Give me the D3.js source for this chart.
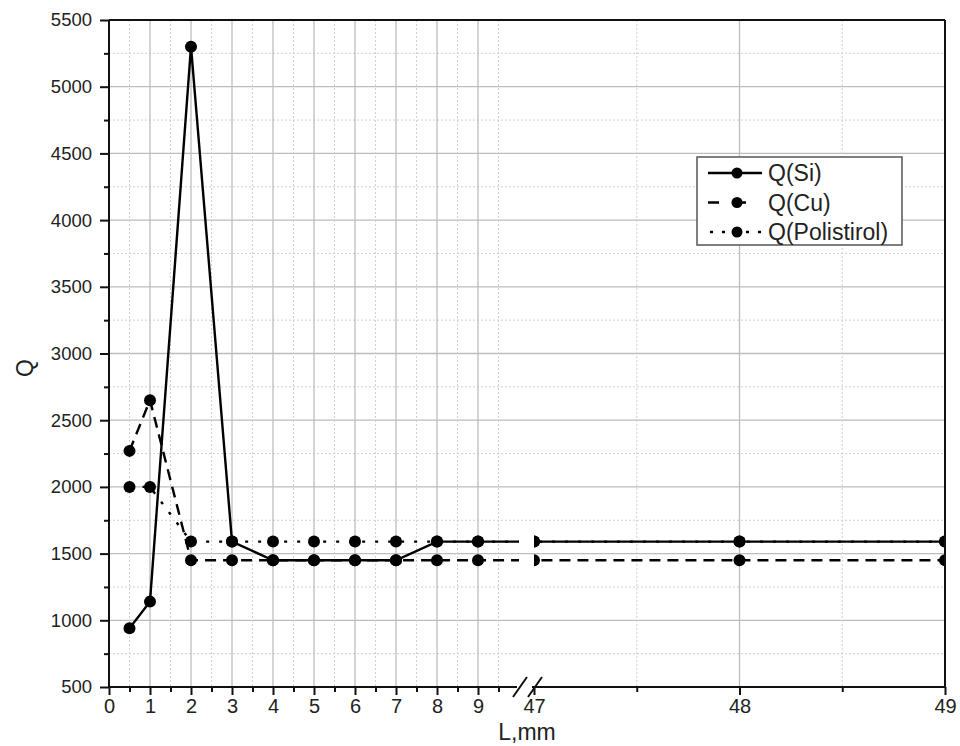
<!DOCTYPE html>
<html><head><meta charset="utf-8">
<script src="https://cdn.jsdelivr.net/npm/d3@7/dist/d3.min.js"></script>
<style>body{margin:0;background:#fff;} text{font-family:Arial,"Liberation Sans",sans-serif;fill:#222;}</style>
</head><body>
<svg id="c" width="960" height="746"></svg>
<script>
// Data
const xValues = [0.5, 1, 2, 3, 4, 5, 6, 7, 8, 9, 47, 48, 49];
const qSi = [940, 1140, 5300, 1590, 1450, 1450, 1450, 1450, 1590, 1590, 1590, 1590, 1590];
const qCu = [2270, 2650, 1450, 1450, 1450, 1450, 1450, 1450, 1450, 1450, 1450, 1450, 1450];
const qPol = [2000, 2000, 1590, 1590, 1590, 1590, 1590, 1590, 1590, 1590, 1590, 1590, 1590];
const seriesNames = ["Q(Si)", "Q(Cu)", "Q(Polistirol)"];
const seg1Ticks = [0, 1, 2, 3, 4, 5, 6, 7, 8, 9];
const seg2Ticks = [47, 48, 49];
const yTicks = [500, 1000, 1500, 2000, 2500, 3000, 3500, 4000, 4500, 5000, 5500];

const svg = d3.select("#c");
const pTop = 20, pBottom = 687, pLeft = 109, pRight = 945;
const y = d3.scaleLinear().domain([500, 5500]).range([pBottom, pTop]);
const segs = [
  {x: d3.scaleLinear().domain([0, 10]).range([pLeft, 519]), ticks: seg1Ticks, minor: d3.range(0.5, 10, 1), id: "s1"},
  {x: d3.scaleLinear().domain([47, 49]).range([534, pRight]), ticks: seg2Ticks, minor: [47.5, 48.5], id: "s2"}
];

const defs = svg.append("defs");
segs.forEach(s => {
  const [a, b] = s.x.range();
  defs.append("clipPath").attr("id", s.id).append("rect")
    .attr("x", a).attr("y", pTop).attr("width", b - a).attr("height", pBottom - pTop);
});

// horizontal grid
const yMinor = d3.range(750, 5500, 500);
svg.append("g").selectAll("line").data(yMinor).join("line")
  .attr("x1", pLeft).attr("x2", pRight).attr("y1", d => y(d)).attr("y2", d => y(d))
  .attr("stroke", "#d0d0d0").attr("stroke-width", 1).attr("stroke-dasharray", "2,2");
svg.append("g").selectAll("line").data(yTicks.slice(1, -1)).join("line")
  .attr("x1", pLeft).attr("x2", pRight).attr("y1", d => y(d)).attr("y2", d => y(d))
  .attr("stroke", "#bdbdbd").attr("stroke-width", 1.3);

// vertical grid per segment
segs.forEach(s => {
  const [a, b] = s.x.range();
  svg.append("g").selectAll("line").data(s.minor).join("line")
    .attr("x1", d => s.x(d)).attr("x2", d => s.x(d)).attr("y1", pTop).attr("y2", pBottom)
    .attr("stroke", "#d0d0d0").attr("stroke-width", 1).attr("stroke-dasharray", "2,2");
  svg.append("g").selectAll("line").data(s.ticks.filter(t => Math.abs(s.x(t) - a) > 2 && Math.abs(s.x(t) - b) > 2)).join("line")
    .attr("x1", d => s.x(d)).attr("x2", d => s.x(d)).attr("y1", pTop).attr("y2", pBottom)
    .attr("stroke", "#bdbdbd").attr("stroke-width", 1.3);
});

// data
const series = [
  {vals: qSi, dash: null},
  {vals: qCu, dash: "11,7"},
  {vals: qPol, dash: "3,10"}
];
segs.forEach(s => {
  const g = svg.append("g").attr("clip-path", `url(#${s.id})`);
  series.forEach(sr => {
    const pts = xValues.map((xv, i) => [xv, sr.vals[i]]);
    g.append("path").datum(pts)
      .attr("d", d3.line().x(d => s.x(d[0])).y(d => y(d[1])))
      .attr("fill", "none").attr("stroke", "#000").attr("stroke-width", 2.4)
      .attr("stroke-dasharray", sr.dash);
  });
  series.forEach(sr => {
    g.append("g").selectAll("circle").data(xValues.map((xv, i) => [xv, sr.vals[i]])).join("circle")
      .attr("cx", d => s.x(d[0])).attr("cy", d => y(d[1])).attr("r", 6).attr("fill", "#000");
  });
});

// axes frame
const axc = "#111";
svg.append("line").attr("x1", pLeft).attr("x2", pRight).attr("y1", pTop).attr("y2", pTop).attr("stroke", axc).attr("stroke-width", 2);
svg.append("line").attr("x1", pLeft).attr("x2", pLeft).attr("y1", pTop).attr("y2", pBottom).attr("stroke", axc).attr("stroke-width", 2);
svg.append("line").attr("x1", pRight).attr("x2", pRight).attr("y1", pTop).attr("y2", pBottom).attr("stroke", axc).attr("stroke-width", 2);
svg.append("line").attr("x1", pLeft).attr("x2", 517).attr("y1", pBottom).attr("y2", pBottom).attr("stroke", axc).attr("stroke-width", 2);
svg.append("line").attr("x1", 532).attr("x2", pRight).attr("y1", pBottom).attr("y2", pBottom).attr("stroke", axc).attr("stroke-width", 2);
// break marks
[520, 535].forEach(cx => {
  svg.append("line").attr("x1", cx - 7).attr("y1", pBottom + 10).attr("x2", cx + 7).attr("y2", pBottom - 10)
    .attr("stroke", axc).attr("stroke-width", 2);
});

// y axis
const yAxis = d3.axisLeft(y).tickValues(yTicks).tickSize(9).tickPadding(8).tickFormat(d3.format("d"));
const yg = svg.append("g").attr("transform", `translate(${pLeft},0)`).call(yAxis);
yg.select(".domain").remove();
yg.selectAll(".tick line").attr("stroke", axc).attr("stroke-width", 2);
yg.selectAll("text").style("font-size", "18.5px").style("font-family", "Arial, 'Liberation Sans', sans-serif").attr("fill", "#222");
const yMinAxis = d3.axisLeft(y).tickValues(yMinor).tickSize(5).tickFormat("");
const ymg = svg.append("g").attr("transform", `translate(${pLeft},0)`).call(yMinAxis);
ymg.select(".domain").remove();
ymg.selectAll(".tick line").attr("stroke", axc).attr("stroke-width", 2);

// x axes
segs.forEach(s => {
  const ax = d3.axisBottom(s.x).tickValues(s.ticks).tickSize(8).tickPadding(4).tickFormat(d3.format("d"));
  const g = svg.append("g").attr("transform", `translate(0,${pBottom})`).call(ax);
  g.select(".domain").remove();
  g.selectAll(".tick line").attr("stroke", axc).attr("stroke-width", 2);
  g.selectAll("text").style("font-size", "20px").style("font-family", "Arial, 'Liberation Sans', sans-serif").attr("fill", "#222");
  const mx = d3.axisBottom(s.x).tickValues(s.minor).tickSize(5).tickFormat("");
  const mg = svg.append("g").attr("transform", `translate(0,${pBottom})`).call(mx);
  mg.select(".domain").remove();
  mg.selectAll(".tick line").attr("stroke", axc).attr("stroke-width", 2);
});

// axis titles
svg.append("text").attr("x", 527).attr("y", 740).attr("text-anchor", "middle").style("font-size", "23px").text("L,mm");
svg.append("text").attr("transform", "translate(33,368) rotate(-90)").attr("text-anchor", "middle").style("font-size", "23px").text("Q");

// legend
const lg = svg.append("g");
lg.append("rect").attr("x", 697).attr("y", 157).attr("width", 205).attr("height", 88)
  .attr("fill", "#fff").attr("stroke", "#555").attr("stroke-width", 1.5);
seriesNames.forEach((n, i) => {
  const yy = 173 + i * 29.5;
  lg.append("line").attr("x1", 708).attr("x2", 762).attr("y1", yy).attr("y2", yy)
    .attr("stroke", "#000").attr("stroke-width", 2.4)
    .attr("stroke-dasharray", i === 1 ? "11,16" : i === 2 ? "3,9" : null)
    .attr("stroke-dashoffset", i === 2 ? -2 : 0);
  lg.append("circle").attr("cx", 737).attr("cy", yy).attr("r", 5.5).attr("fill", "#000");
  lg.append("text").attr("x", 768).attr("y", yy + 8).style("font-size", "23px").text(n);
});
</script>
</body></html>
